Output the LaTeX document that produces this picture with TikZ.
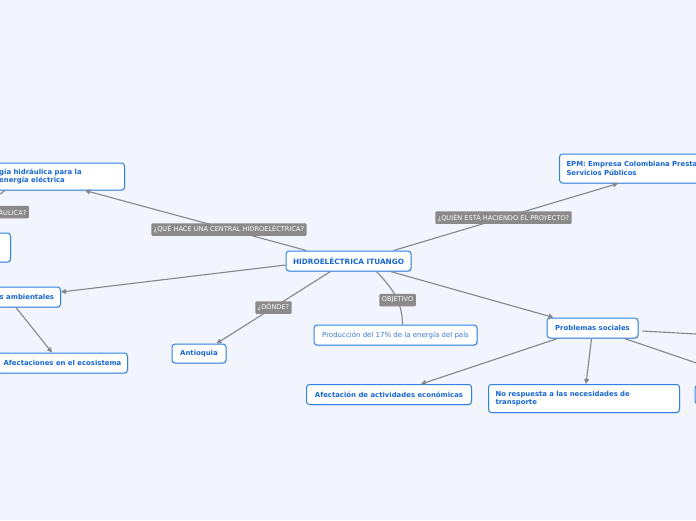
\documentclass[tikz,border=0pt]{standalone}
\usepackage{fontspec}
\setmainfont{DejaVu Sans}
\usetikzlibrary{arrows.meta,shadows}
\definecolor{bg}{RGB}{242,245,253}
\definecolor{nodeblue}{RGB}{45,130,228}
\definecolor{textblue}{RGB}{22,102,208}
\definecolor{lighttext}{RGB}{52,122,215}
\definecolor{conngray}{RGB}{130,134,142}
\definecolor{lblgray}{RGB}{138,138,138}
\begin{document}
\begin{tikzpicture}[x=1pt,y=1pt,
  box/.style={draw=nodeblue, fill=white, rounded corners=3pt, line width=1pt,
    font=\fontsize{6.9}{8.6}\selectfont\bfseries, text=textblue, inner xsep=6pt, inner ysep=2pt,
    drop shadow={shadow xshift=0.6pt, shadow yshift=-0.8pt, opacity=0.15, fill=black}},
  boxtext/.style={font=\fontsize{6.9}{8.6}\selectfont\bfseries, text=textblue, inner sep=0pt},
  lbl/.style={fill=lblgray, text=white, font=\fontsize{6.6}{7.5}\selectfont, inner xsep=2.5pt, inner ysep=1.5pt, minimum height=12.5pt, rounded corners=1pt},
  conn/.style={draw=conngray, line width=1.1pt, -{Triangle[length=5pt,width=5pt]}},
  connplain/.style={draw=conngray, line width=1.1pt},
]
\useasboundingbox (0,0) rectangle (696,-520);
\fill[bg] (0,0) rectangle (696,-520);
\clip (0,0) rectangle (696,-520);

% nodes
\node[box, minimum width=125pt, minimum height=20pt, font=\fontsize{7.3}{8.6}\selectfont\bfseries] (central) at (348.5,-261) {HIDROELÉCTRICA ITUANGO};
\node[box, anchor=east, minimum width=205pt, minimum height=27pt] (topleft) at (125,-176.5) {};
\node[boxtext, anchor=west, align=left] (topleftText) at (-1,-176.5) {gía hidráulica para la\\energía eléctrica};
\node[box, anchor=east, minimum width=130pt, minimum height=29pt] (leftbox) at (11,-247.5) {};
\node[box, anchor=east, minimum width=120pt, minimum height=20pt] (ambient) at (61,-297) {};
\node[boxtext, anchor=west] (ambientText) at (-0.5,-297) {s ambientales};
\node[box, minimum width=130pt, minimum height=20pt] (afeco) at (62.5,-363) {Afectaciones en el ecosistema};
\node[box, minimum width=54pt, minimum height=19pt] (antioquia) at (199,-353.5) {Antioquia};
\node[box, minimum width=163pt, minimum height=20pt, font=\fontsize{7}{8.6}\selectfont, text=lighttext] (prod) at (395.5,-335) {Producción del 17\% de la energía del país};
\node[box, anchor=west, text width=186pt, inner xsep=7pt, minimum height=29pt, align=left] (epm) at (559,-168.5) {EPM: Empresa Colombiana Prestadora de\\Servicios Públicos};
\node[box, minimum width=91pt, minimum height=20pt] (sociales) at (592.5,-328) {Problemas sociales};
\node[box, minimum width=165pt, minimum height=20pt] (afecon) at (389,-394.5) {Afectación de actividades económicas};
\node[box, anchor=west, text width=177pt, inner xsep=7pt, minimum height=28pt, align=left] (norresp) at (488,-398.5) {No respuesta a las necesidades de\\transporte};
\node[box, anchor=west, minimum width=100pt, minimum height=19pt] (rightbox) at (694.6,-394.5) {};
\coordinate (offR) at (760,-337.6);

% connectors
\draw[conn] ([xshift=21pt]central.north west) -- node[lbl,pos=0.35] (q1) {¿QUÉ HACE UNA CENTRAL HIDROELÉCTRICA?} ([xshift=-40pt]topleft.south east);
\draw[conn] ([xshift=-18pt]central.north east) -- node[lbl,pos=0.49] (q2) {¿QUIÉN ESTÁ HACIENDO EL PROYECTO?} ([xshift=59pt]epm.south west);
\draw[conn] ([xshift=45pt]central.south west) -- node[lbl,pos=0.5] (q3) {¿DÓNDE?} ([xshift=-10pt]antioquia.north east);
\draw[connplain] ([xshift=91pt]central.south west) .. controls +(13,-14) and +(0,25) .. node[lbl,pos=0.62] (q4) {OBJETIVO} ([xshift=89pt]prod.north west);
\draw[conn] ([yshift=-4pt]central.west) -- ([yshift=5pt]ambient.east);
\draw[conn] ([xshift=-45pt]ambient.south east) -- ([xshift=55pt]afeco.north west);
\draw[conn] ([xshift=-21pt]central.south east) -- ([xshift=7pt]sociales.north west);
\draw[conn] ([xshift=11pt]sociales.south west) -- ([xshift=115pt]afecon.north west);
\draw[conn] ([xshift=45pt]sociales.south west) -- ([xshift=98pt]norresp.north west);
\draw[conn] ([xshift=4pt,yshift=-3pt]sociales.east) -- (offR);
\draw[conn] ([xshift=-14pt]sociales.south east) -- ([xshift=65pt]rightbox.north west);
\draw[conn] ([xshift=-120pt]topleft.south east) -- (leftbox.north);
\node[lbl, anchor=east, text width=100pt, align=right] (q5) at (29,-212) {ÁULICA?};
\end{tikzpicture}
\end{document}
